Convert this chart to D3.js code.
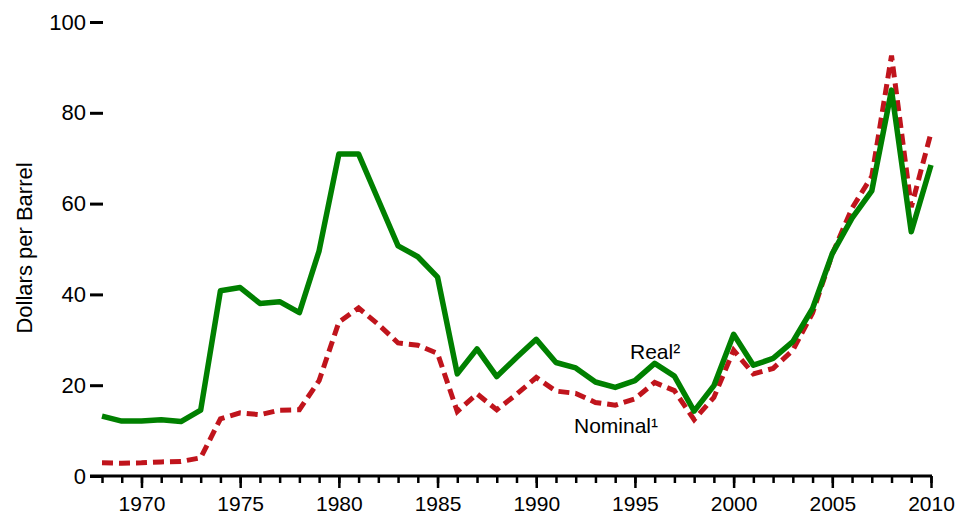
<!DOCTYPE html>
<html>
<head>
<meta charset="utf-8">
<script src="https://cdn.jsdelivr.net/npm/d3@7"></script>
<style>
  body { margin: 0; background: #fff; }
  text { font-family: "Liberation Sans", Arial, sans-serif; fill: #000; }
</style>
</head>
<body>
<svg class="chart"></svg>
<script>
var width = 962, height = 516;

// years on the x axis
var years = [1968, 1969, 1970, 1971, 1972, 1973, 1974, 1975, 1976, 1977,
    1978, 1979, 1980, 1981, 1982, 1983, 1984, 1985, 1986, 1987,
    1988, 1989, 1990, 1991, 1992, 1993, 1994, 1995, 1996, 1997,
    1998, 1999, 2000, 2001, 2002, 2003, 2004, 2005, 2006, 2007,
    2008, 2009, 2010];

// dollars per barrel
var nominal = [2.9, 2.8, 2.9, 3.1, 3.2, 4.0, 12.6, 13.9, 13.5, 14.5,
    14.6, 21.0, 33.9, 37.0, 33.4, 29.3, 28.8, 27.0, 14.2, 18.1,
    14.6, 18.0, 21.7, 18.7, 18.2, 16.2, 15.6, 17.0, 20.6, 18.8,
    12.4, 17.3, 27.7, 22.5, 23.7, 27.7, 35.9, 48.9, 59.0, 66.0,
    92.6, 59.2, 75.6];

var real = [13.2, 12.1, 12.1, 12.4, 12.0, 14.5, 40.8, 41.5, 38.0, 38.4,
    36.0, 49.6, 70.9, 70.9, 60.8, 50.7, 48.3, 43.8, 22.5, 28.0,
    21.9, 26.1, 30.1, 25.0, 23.8, 20.7, 19.5, 21.0, 24.8, 22.0,
    14.3, 19.9, 31.2, 24.4, 25.9, 29.6, 36.9, 49.0, 56.8, 62.8,
    85.0, 53.8, 68.5];

var yTicks = [0, 20, 40, 60, 80, 100];
var xLabels = [1970, 1975, 1980, 1985, 1990, 1995, 2000, 2005, 2010];

var chart = d3.select(".chart")
    .attr("width", width)
    .attr("height", height);

var x_scale = d3.scaleLinear()
    .domain([1968, 2010])
    .range([102, 931]);

var y_scale = d3.scaleLinear()
    .domain([0, 100])
    .range([476, 22]);

// y axis: ticks only, no vertical line
var y_axis = d3.axisLeft(y_scale)
    .tickValues(yTicks)
    .tickSize(13)
    .tickPadding(4);

var gy = chart.append("g")
    .attr("transform", "translate(103,0)")
    .call(y_axis);
gy.select(".domain").remove();
gy.selectAll("line").attr("stroke", "#000").attr("stroke-width", 3);
gy.selectAll("text")
    .style("font-family", "'Liberation Sans', Arial, sans-serif")
    .style("font-size", "22px");

// x axis: one small tick per year, bigger ones with labels every 5 years
var minor_axis = d3.axisBottom(x_scale)
    .tickValues(years)
    .tickSize(7)
    .tickFormat("");

var major_axis = d3.axisBottom(x_scale)
    .tickValues(xLabels)
    .tickSize(12)
    .tickPadding(8)
    .tickFormat(d3.format("d"));

var gxMinor = chart.append("g")
    .attr("transform", "translate(0,476)")
    .call(minor_axis);
gxMinor.select(".domain").remove();
gxMinor.selectAll("line").attr("stroke", "#000").attr("stroke-width", 2.5);

var gxMajor = chart.append("g")
    .attr("transform", "translate(0,476)")
    .call(major_axis);
gxMajor.select(".domain").remove();
gxMajor.selectAll("line").attr("stroke", "#000").attr("stroke-width", 2.5);
gxMajor.selectAll("text")
    .style("font-family", "'Liberation Sans', Arial, sans-serif")
    .style("font-size", "21px");

// baseline starts a bit left of 1968, under the y ticks
chart.append("line")
    .attr("x1", 90)
    .attr("x2", x_scale(2010) + 1)
    .attr("y1", y_scale(0))
    .attr("y2", y_scale(0))
    .attr("stroke", "#000")
    .attr("stroke-width", 3);

chart.append("text")
    .attr("transform", "translate(32,248) rotate(-90)")
    .attr("text-anchor", "middle")
    .style("font-size", "22px")
    .text("Dollars per Barrel");

var line = d3.line()
    .x(function(d, i) { return x_scale(years[i]); })
    .y(function(d) { return y_scale(d); });

// nominal first so the real line sits on top
chart.append("path")
    .datum(nominal)
    .attr("d", line)
    .attr("fill", "none")
    .attr("stroke", "#c0141c")
    .attr("stroke-width", 5)
    .attr("stroke-dasharray", "11,6");

chart.append("path")
    .datum(real)
    .attr("d", line)
    .attr("fill", "none")
    .attr("stroke", "#008000")
    .attr("stroke-width", 5.5)
    .attr("stroke-linejoin", "round");

chart.append("text")
    .attr("x", 630)
    .attr("y", 359)
    .style("font-size", "21px")
    .text("Real²");

chart.append("text")
    .attr("x", 574)
    .attr("y", 433)
    .style("font-size", "21px")
    .text("Nominal¹");
</script>
</body>
</html>
